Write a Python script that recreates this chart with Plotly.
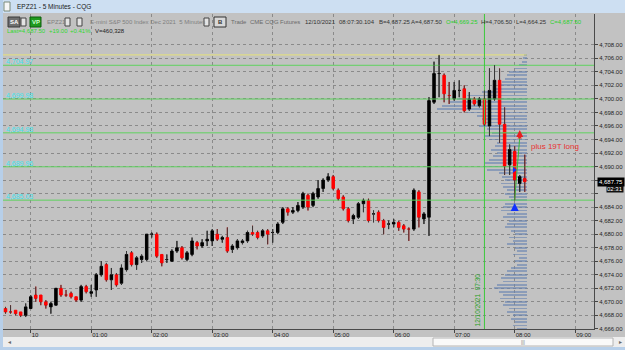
import plotly.graph_objects as go
import pandas as pd

# ---------------- data ----------------
bar_times = pd.date_range("2021-12-09 23:35", periods=104, freq="5min")

opens = [4669.0, 4668.5, 4668.75, 4668.5, 4668.0, 4669.0, 4671.0, 4671.0, 4670.0, 4669.25,
         4669.5, 4672.0, 4671.0, 4671.25, 4670.75, 4670.25, 4672.25, 4671.25, 4671.75, 4674.0,
         4675.5, 4673.25, 4674.0, 4672.75, 4674.75, 4677.25, 4675.5, 4676.25, 4676.25, 4680.0,
         4680.0, 4677.0, 4676.25, 4676.0, 4677.5, 4678.0, 4676.25, 4677.0, 4678.75, 4678.25,
         4679.0, 4679.0, 4680.0, 4679.25, 4679.5, 4677.75, 4678.0, 4678.75, 4679.0, 4680.25,
         4680.25, 4679.75, 4680.5, 4680.25, 4680.25, 4681.75, 4683.75, 4683.25, 4683.5, 4684.0,
         4685.75, 4684.25, 4685.5, 4686.75, 4688.0, 4688.5, 4686.5, 4685.5, 4683.75, 4682.25,
         4682.5, 4684.5, 4685.0, 4683.0, 4683.25, 4682.0, 4681.5, 4681.5, 4681.75, 4681.25,
         4680.75, 4680.75, 4686.25, 4682.25, 4682.5, 4699.5, 4703.75, 4703.5, 4700.5, 4700.0,
         4701.25, 4701.5, 4698.5, 4700.0, 4699.0, 4700.0, 4696.0, 4700.0, 4702.75, 4696.25,
         4690.25, 4692.25, 4687.5, 4688.25]
highs = [4669.25, 4669.5, 4668.75, 4668.5, 4669.75, 4671.0, 4672.25, 4671.0, 4670.25, 4670.0,
         4672.0, 4672.5, 4671.75, 4671.5, 4670.75, 4672.5, 4672.5, 4672.5, 4674.25, 4676.0,
         4675.75, 4675.0, 4674.25, 4675.5, 4677.5, 4677.5, 4676.75, 4677.0, 4680.0, 4680.25,
         4680.25, 4677.0, 4677.0, 4677.75, 4679.0, 4678.25, 4677.5, 4679.5, 4679.0, 4679.25,
         4680.5, 4680.75, 4680.75, 4679.75, 4681.0, 4678.5, 4679.25, 4679.25, 4680.5, 4681.25,
         4680.5, 4680.75, 4680.75, 4680.75, 4681.75, 4684.0, 4684.0, 4684.0, 4684.75, 4686.25,
         4686.0, 4686.25, 4688.0, 4688.25, 4689.0, 4688.75, 4686.75, 4685.75, 4684.0, 4683.0,
         4684.75, 4685.25, 4685.25, 4683.5, 4683.5, 4682.25, 4682.0, 4682.25, 4682.0, 4681.5,
         4681.0, 4686.75, 4686.5, 4683.25, 4700.25, 4705.5, 4706.5, 4703.75, 4702.5, 4702.5,
         4702.75, 4702.0, 4701.0, 4700.25, 4700.25, 4701.25, 4704.5, 4705.0, 4704.5, 4698.75,
         4693.25, 4693.0, 4688.75, 4691.75]
lows = [4668.25, 4668.25, 4668.0, 4667.75, 4667.75, 4669.0, 4670.0, 4669.5, 4669.0, 4668.25,
        4669.5, 4670.75, 4670.75, 4670.5, 4670.0, 4670.0, 4671.25, 4670.75, 4670.75, 4673.75,
        4673.0, 4671.75, 4672.25, 4672.5, 4674.5, 4675.25, 4674.75, 4675.75, 4676.0, 4679.5,
        4676.5, 4675.25, 4675.75, 4676.0, 4677.25, 4676.25, 4676.0, 4676.75, 4677.75, 4678.0,
        4678.25, 4678.25, 4679.0, 4678.75, 4677.25, 4677.25, 4677.75, 4678.5, 4678.75, 4679.75,
        4679.25, 4679.5, 4678.5, 4678.75, 4680.0, 4681.5, 4682.75, 4683.0, 4683.25, 4683.75,
        4683.5, 4684.0, 4685.25, 4686.25, 4687.75, 4686.5, 4685.0, 4683.5, 4681.75, 4681.5,
        4682.25, 4683.25, 4681.75, 4681.75, 4681.75, 4680.0, 4680.75, 4681.0, 4680.5, 4680.25,
        4679.0, 4680.5, 4681.0, 4681.5, 4679.75, 4699.25, 4700.25, 4699.5, 4699.25, 4699.75,
        4700.25, 4698.0, 4698.25, 4699.0, 4698.75, 4696.0, 4694.5, 4699.75, 4693.5, 4688.75,
        4688.75, 4685.0, 4686.25, 4686.25]
closes = [4668.5, 4668.5, 4668.25, 4668.0, 4669.25, 4670.75, 4670.5, 4670.0, 4669.5, 4669.75,
          4672.0, 4671.0, 4671.0, 4670.75, 4670.25, 4672.25, 4671.5, 4671.5, 4674.0, 4675.25,
          4673.25, 4674.0, 4672.5, 4675.0, 4677.0, 4675.5, 4676.5, 4676.75, 4680.0, 4680.0,
          4676.75, 4675.75, 4676.25, 4677.5, 4678.0, 4676.5, 4677.25, 4679.0, 4678.25, 4678.75,
          4679.25, 4680.5, 4679.25, 4679.5, 4677.5, 4678.25, 4679.0, 4679.0, 4680.25, 4680.0,
          4679.5, 4680.5, 4680.0, 4680.25, 4681.5, 4683.75, 4683.25, 4683.5, 4684.25, 4686.0,
          4684.0, 4686.0, 4686.75, 4688.0, 4688.5, 4686.75, 4685.25, 4683.75, 4682.0, 4682.75,
          4684.5, 4685.0, 4682.0, 4683.0, 4682.0, 4681.0, 4681.5, 4681.75, 4681.0, 4680.75,
          4680.75, 4686.5, 4682.5, 4683.0, 4699.75, 4703.75, 4703.75, 4700.75, 4700.5, 4701.25,
          4701.25, 4698.25, 4700.0, 4699.25, 4700.0, 4696.25, 4701.25, 4702.75, 4696.25, 4690.0,
          4692.5, 4688.0, 4688.5, 4687.75]

# volume profile (price level -> relative volume)
profile_prices = [4706.5, 4706.0, 4705.5, 4705.0, 4704.5, 4704.0, 4703.5, 4703.0, 4702.5, 4702.0,
                  4701.5, 4701.0, 4700.5, 4700.0, 4699.5, 4699.0, 4698.5, 4698.0, 4697.5, 4697.0,
                  4696.5, 4696.0, 4695.5, 4695.0, 4694.5, 4694.0, 4693.5, 4693.0, 4692.5, 4692.0,
                  4691.5, 4691.0, 4690.5, 4690.0, 4689.5, 4689.0, 4688.5, 4688.0, 4687.5, 4687.0,
                  4686.5, 4686.0, 4685.5, 4685.0, 4684.5, 4684.0, 4683.5, 4683.0, 4682.5, 4682.0,
                  4681.5, 4681.0, 4680.5, 4680.0, 4679.5, 4679.0, 4678.5, 4678.0, 4677.5, 4677.0,
                  4676.5, 4676.0, 4675.5, 4675.0, 4674.5, 4674.0, 4673.5, 4673.0, 4672.5, 4672.0,
                  4671.5, 4671.0, 4670.5, 4670.0, 4669.5, 4669.0, 4668.5, 4668.0, 4667.5, 4667.0,
                  4666.5, 4666.0]
profile_volume = [3, 4, 5, 8, 12, 18, 20, 22, 25, 28,
                  32, 45, 60, 70, 78, 85, 90, 60, 50, 45,
                  42, 48, 40, 35, 42, 38, 30, 32, 36, 30,
                  34, 38, 42, 44, 40, 28, 25, 22, 26, 24,
                  20, 22, 18, 16, 22, 24, 26, 20, 24, 18,
                  20, 22, 16, 12, 18, 14, 20, 12, 10, 14,
                  8, 12, 10, 16, 20, 22, 26, 24, 30, 33,
                  28, 24, 27, 22, 24, 18, 20, 14, 16, 12,
                  14, 10]

level_prices = [4704.97, 4699.98, 4694.98, 4689.96, 4685.03]
day_high = 4706.50
session_open = "2021-12-10 07:30"
profile_end = "2021-12-10 08:12"

hour_ticks = ["2021-12-10 %02d:00" % h for h in range(10)]
hour_labels = ["10", "01:00", "02:00", "03:00", "04:00", "05:00", "06:00", "07:00", "08:00", "09:00"]
price_ticks = [4666, 4668, 4670, 4672, 4674, 4676, 4678, 4680, 4682, 4684,
               4690, 4692, 4694, 4696, 4698, 4700, 4702, 4704, 4706, 4708]
hidden_price_ticks = [4686, 4688]   # covered by the last-price box / timer

buy_time, buy_price = "2021-12-10 08:00", 4684.6
sell_time, sell_price = "2021-12-10 08:05", 4695.4
link_times = ["2021-12-10 08:00", "2021-12-10 08:05"]
link_prices = [4685.1, 4694.3]
fill_time, fill_price = "2021-12-10 07:59:30", 4689.5
trade_label = "plus 19T long"
last_price_box = 4687.75
timer_text = "02:31"

x_left, x_right = "2021-12-09 23:32:30", "2021-12-10 09:18:40"
y_range = [4665.98, 4712.55]

# ---------------- geometry helpers ----------------
W, H = 625, 350
ML, MR, MT, MB = 3, 31, 14, 21
PW, PH = W - ML - MR, H - MT - MB


def fx(px):
    return (px - ML) / PW


def fy(py):
    return (H - MB - py) / PH


FONT = "Liberation Sans, Arial, sans-serif"
BG = "#c2c2c2"

fig = go.Figure()

# volume profile on a hidden pixel-unit axis anchored at the profile's right edge
fig.add_trace(go.Bar(
    x=profile_volume, y=profile_prices, orientation="h", width=0.27,
    marker=dict(color="rgba(105,132,178,0.62)", line=dict(width=0)),
    xaxis="x", yaxis="y", hoverinfo="skip"))

# level lines
lx, ly = [], []
for p in level_prices:
    lx += [x_left, x_right, None]
    ly += [p, p, None]
fig.add_trace(go.Scatter(x=lx, y=ly, mode="lines", line=dict(color="#5ed25e", width=1),
                         xaxis="x2", yaxis="y", hoverinfo="skip"))
fig.add_trace(go.Scatter(x=[x_left, profile_end], y=[day_high, day_high], mode="lines",
                         line=dict(color="#e6e27a", width=1), xaxis="x2", yaxis="y",
                         hoverinfo="skip"))

# session marker
fig.add_trace(go.Scatter(x=[session_open, session_open], y=y_range, mode="lines",
                         line=dict(color="#3cc83c", width=1), xaxis="x2", yaxis="y",
                         hoverinfo="skip"))

# candles
fig.add_trace(go.Candlestick(
    x=bar_times, open=opens, high=highs, low=lows, close=closes,
    increasing=dict(line=dict(color="#000000", width=1), fillcolor="#000000"),
    decreasing=dict(line=dict(color="#ff0000", width=1), fillcolor="#ff0000"),
    whiskerwidth=0, xaxis="x2", yaxis="y", hoverinfo="skip"))

# dark wicks
wx, wy = [], []
for t, o, h, l, c in zip(bar_times, opens, highs, lows, closes):
    top, bot = max(o, c), min(o, c)
    if h > top:
        wx += [t, t, None]
        wy += [top, h, None]
    if l < bot:
        wx += [t, t, None]
        wy += [l, bot, None]
fig.add_trace(go.Scatter(x=wx, y=wy, mode="lines", line=dict(color="#3a3a3a", width=1),
                         xaxis="x2", yaxis="y", hoverinfo="skip"))

# trade markers
fig.add_trace(go.Scatter(x=link_times, y=link_prices, mode="lines",
                         line=dict(color="#38b838", width=1), xaxis="x2", yaxis="y",
                         hoverinfo="skip"))
fig.add_trace(go.Scatter(x=[buy_time], y=[buy_price], mode="markers",
                         marker=dict(symbol="arrow-up", size=8, color="#1030ff"),
                         xaxis="x2", yaxis="y", hoverinfo="skip"))
fig.add_trace(go.Scatter(x=[sell_time], y=[sell_price], mode="markers",
                         marker=dict(symbol="arrow-up", size=7, color="#e82020"),
                         xaxis="x2", yaxis="y", hoverinfo="skip"))
fig.add_trace(go.Scatter(x=[link_times[1]], y=[link_prices[1]], mode="markers",
                         marker=dict(symbol="triangle-up", size=4, color="#e82020"),
                         xaxis="x2", yaxis="y", hoverinfo="skip"))
fig.add_trace(go.Scatter(x=[fill_time], y=[fill_price], mode="markers",
                         marker=dict(symbol="triangle-right", size=5, color="#1030ff"),
                         xaxis="x2", yaxis="y", hoverinfo="skip"))

annotations = []
shapes = []

# level labels
for p in level_prices:
    annotations.append(dict(x=fx(4), xref="paper", y=p, yref="y", text=f"{p:,.2f}",
                            showarrow=False, xanchor="left", yanchor="bottom", yshift=-2,
                            font=dict(family=FONT, size=7, color="#3fe4ee")))

annotations.append(dict(x=session_open, xref="x2", y=0, yref="paper",
                        text="12/10/2021  07:30", textangle=-90, showarrow=False,
                        xanchor="right", yanchor="bottom", xshift=-1, yshift=1,
                        font=dict(family=FONT, size=6.5, color="#22a022")))

annotations.append(dict(x=fx(529), xref="paper", y=4693.0, yref="y", text=trade_label,
                        showarrow=False, xanchor="left", yanchor="middle",
                        font=dict(family=FONT, size=8, color="#e83030")))

annotations.append(dict(x=fx(597), xref="paper", y=last_price_box, yref="y",
                        text=f"{last_price_box:,.2f}", showarrow=False, xanchor="left",
                        yanchor="middle", bgcolor="#000000", borderpad=1,
                        font=dict(family=FONT, size=6, color="#ffffff")))
annotations.append(dict(x=fx(606), xref="paper", y=fy(189), yref="paper",
                        text=timer_text, showarrow=False, xanchor="left", yanchor="middle",
                        bgcolor="#101010", borderpad=0,
                        font=dict(family=FONT, size=6, color="#ffffff")))

# ---------------- window chrome ----------------
def rect(x0, y0, x1, y1, fill, line=None, lw=1):
    shapes.append(dict(type="rect", xref="paper", yref="paper",
                       x0=fx(x0), x1=fx(x1), y0=fy(y0), y1=fy(y1),
                       fillcolor=fill, line=dict(color=line or fill, width=lw if line else 0),
                       layer="above"))


def label(text, px, py, color, size=6, anchor="left", bold=False):
    annotations.append(dict(x=fx(px), xref="paper", y=fy(py), yref="paper",
                            text=f"<b>{text}</b>" if bold else text, showarrow=False,
                            xanchor=anchor, yanchor="middle",
                            font=dict(family=FONT, size=size, color=color)))


rect(0, 0, 625, 13, "#cddff2")
rect(0, 0, 3, 350, "#b7cfe9")
rect(4, 2, 10, 11, "#f6f6f6", "#7a8a7a")
label("EPZ21 - 5 Minutes - CQG", 15, 7, "#1a1a1a", size=6.5)

rect(8, 17, 20, 27, "#6f6f6f", "#3a3a3a")
label("SA", 14, 22, "#ffffff", size=6, anchor="center", bold=True)
rect(21, 18, 26, 26, "#e4e4e4", "#444444")
rect(30, 17, 41, 27, "#1f9a1f", "#0d5d0d")
label("VP", 35.5, 22, "#d0ffd0", size=6, anchor="center", bold=True)
label("EPZ21", 45, 22, "#808080")
rect(65, 18, 70, 26, "#e4e4e4", "#444444")
rect(77, 18, 82, 26, "#e4e4e4", "#444444")
label("E-mini S&amp;P 500 Index Dec 2021  5 Minutes", 88, 22, "#808080")
rect(204, 18, 209, 26, "#e4e4e4", "#444444")
rect(214, 17, 226, 27, "#d8d8d8", "#333333")
label("B", 216, 22, "#333333", size=6, bold=True)

header_items = [("Trade", 229, "#6a6a6a"), ("CME", 248, "#6a6a6a"), ("CQG", 263, "#6a6a6a"),
                ("Futures", 278, "#6a6a6a"), ("12/10/2021", 303, "#333333"),
                ("08:07:30.104", 337, "#333333"), ("B=4,687.25", 377, "#333333"),
                ("A=4,687.50", 409, "#333333"), ("O=4,669.25", 444, "#2ad02a"),
                ("H=4,706.50", 479, "#333333"), ("L=4,664.25", 514, "#333333"),
                ("C=4,687.50", 548, "#2ad02a")]
for text, px, col in header_items:
    label(text, px, 22, col)

row2_items = [("Last=4,687.50", 5, "#30d830"), ("+19.00", 47, "#30d830"),
              ("+0.41%", 68, "#30d830"), ("V=460,328", 93, "#222222")]
for text, px, col in row2_items:
    label(text, px, 31, col)

# scrollbar
rect(3, 337, 625, 347, "#ededed")
rect(433, 338, 613, 346, "#f9f9f9", "#b4b4b4")
label("◂", 6, 342, "#666666", size=6)
label("▸", 617, 342, "#666666", size=6)
label("|||", 523, 342, "#777777", size=5, anchor="center")
rect(0, 347, 625, 350, "#b7cfe9")

fig.update_layout(
    width=W, height=H,
    margin=dict(l=ML, r=MR, t=MT, b=MB, pad=0),
    paper_bgcolor=BG, plot_bgcolor=BG,
    showlegend=False,
    bargap=0,
    font=dict(family=FONT, size=6, color="#222222"),
    xaxis=dict(range=[524, -67], visible=False, showgrid=False, zeroline=False,
               fixedrange=True),
    xaxis2=dict(overlaying="x", anchor="y", side="bottom", type="date",
                range=[x_left, x_right], tickvals=hour_ticks, ticktext=hour_labels,
                ticklabelposition="outside right", ticks="outside", ticklen=3,
                tickcolor="#444444", showgrid=True, gridcolor="#8a8a8a", griddash="dot",
                gridwidth=1, showline=True, linecolor="#4a4a4a", linewidth=1,
                tickfont=dict(family=FONT, size=6, color="#222222"),
                rangeslider=dict(visible=False), zeroline=False),
    yaxis=dict(side="right", range=y_range, tickvals=price_ticks, tickformat=",.2f",
               ticks="outside", ticklen=3, tickcolor="#444444", showgrid=True,
               gridcolor="#8a8a8a", griddash="dot", gridwidth=1, showline=True,
               linecolor="#4a4a4a", linewidth=1, zeroline=False,
               tickfont=dict(family=FONT, size=6, color="#222222"),
               minor=dict(tickvals=hidden_price_ticks, showgrid=True, gridcolor="#8a8a8a",
                          griddash="dot", gridwidth=1, ticks="outside", ticklen=3,
                          tickcolor="#444444")),
    annotations=annotations,
    shapes=shapes,
)

fig.write_html("out.html")
